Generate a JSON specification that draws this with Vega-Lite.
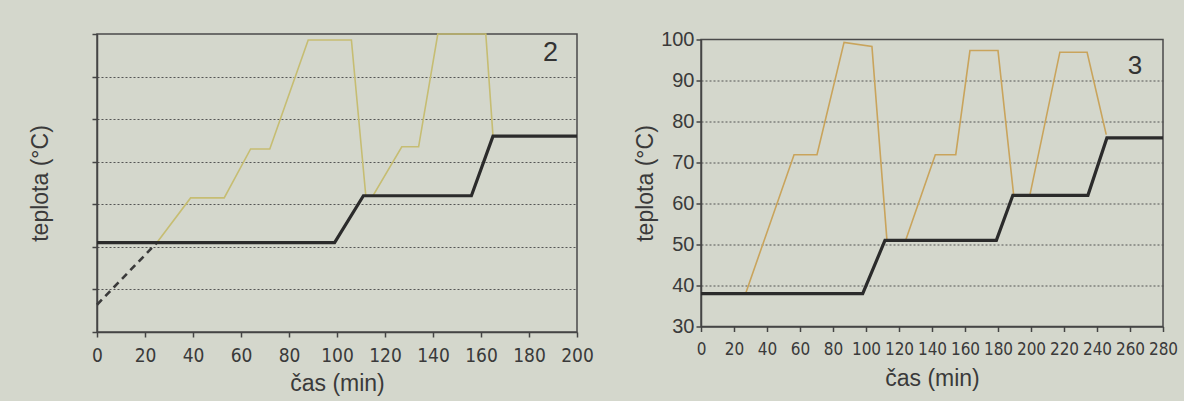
{
  "$schema": "https://vega.github.io/schema/vega-lite/v6.json",
  "background": "#d4d7cc",
  "padding": {"left": 28, "top": 28, "right": 5, "bottom": 5},
  "spacing": 124,
  "bounds": "flush",
  "center": true,
  "config": {
    "view": {"stroke": "#4a4a4a", "strokeWidth": 1.5},
    "font": "Liberation Sans",
    "axis": {
      "domainColor": "#444", "domainWidth": 1.5,
      "tickColor": "#444", "tickWidth": 1.5, "tickSize": 5,
      "labelColor": "#3a3a3a", "labelFontSize": 20, "labelPadding": 2,
      "titleColor": "#3a3a3a", "titleFontSize": 23, "titleFontWeight": "normal",
      "labelFlush": false, "labelOverlap": false,
      "gridColor": "#555", "gridDash": [2, 2], "gridWidth": 1
    }
  },
  "datasets": {
    "p2": [
      {"s": "k", "t": 0, "v": 51}, {"s": "k", "t": 99, "v": 51}, {"s": "k", "t": 111, "v": 62},
      {"s": "k", "t": 156, "v": 62}, {"s": "k", "t": 165, "v": 76}, {"s": "k", "t": 200, "v": 76},
      {"s": "d", "t": 0, "v": 36.4}, {"s": "d", "t": 25, "v": 51},
      {"s": "y", "t": 25, "v": 51}, {"s": "y", "t": 39, "v": 61.5}, {"s": "y", "t": 53, "v": 61.5},
      {"s": "y", "t": 64, "v": 73}, {"s": "y", "t": 72, "v": 73}, {"s": "y", "t": 88, "v": 98.6},
      {"s": "y", "t": 106, "v": 98.6}, {"s": "y", "t": 112, "v": 62}, {"s": "y", "t": 115, "v": 62},
      {"s": "y", "t": 127, "v": 73.5}, {"s": "y", "t": 134, "v": 73.5}, {"s": "y", "t": 142, "v": 100},
      {"s": "y", "t": 162, "v": 100}, {"s": "y", "t": 165, "v": 76}
    ],
    "p3": [
      {"s": "k", "t": 0, "v": 38}, {"s": "k", "t": 98, "v": 38}, {"s": "k", "t": 111.5, "v": 51},
      {"s": "k", "t": 179, "v": 51}, {"s": "k", "t": 189, "v": 62}, {"s": "k", "t": 234.5, "v": 62},
      {"s": "k", "t": 246, "v": 76}, {"s": "k", "t": 280, "v": 76},
      {"s": "y", "t": 27, "v": 38}, {"s": "y", "t": 56.4, "v": 71.9}, {"s": "y", "t": 70.3, "v": 71.9},
      {"s": "y", "t": 86.7, "v": 99.3}, {"s": "y", "t": 103.6, "v": 98.3}, {"s": "y", "t": 112.7, "v": 51},
      {"s": "y", "t": 124, "v": 51}, {"s": "y", "t": 142, "v": 71.9}, {"s": "y", "t": 154.4, "v": 71.9},
      {"s": "y", "t": 163, "v": 97.3}, {"s": "y", "t": 180, "v": 97.3}, {"s": "y", "t": 189.5, "v": 62},
      {"s": "y", "t": 199.3, "v": 62}, {"s": "y", "t": 217.5, "v": 96.9}, {"s": "y", "t": 234, "v": 96.9},
      {"s": "y", "t": 245.6, "v": 76.8}
    ],
    "lab2": [{"t": 189, "v": 95.6, "txt": "2"}],
    "lab3": [{"t": 263, "v": 93.6, "txt": "3"}]
  },
  "hconcat": [
    {
      "width": 480, "height": 298,
      "encoding": {
        "x": {"field": "t", "type": "quantitative", "scale": {"domain": [0, 200], "nice": false},
              "axis": {"values": [0, 20, 40, 60, 80, 100, 120, 140, 160, 180, 200], "title": "čas (min)", "grid": false,
                       "labelFont": "DejaVu Sans Condensed, Liberation Sans", "labelFontSize": 19, "labelPadding": 9, "titlePadding": 7}},
        "y": {"field": "v", "type": "quantitative", "scale": {"domain": [30, 100], "nice": false, "zero": false},
              "axis": {"values": [30, 40, 50, 60, 70, 80, 90, 100], "labels": false, "title": "teplota (°C)", "titlePadding": 39, "grid": true,
                       "gridOpacity": {"condition": {"test": "datum.value == 30 || datum.value == 100", "value": 0}, "value": 1}}}
      },
      "layer": [
        {"data": {"name": "p2"}, "transform": [{"filter": "datum.s == 'y'"}], "mark": {"type": "line", "color": "#c6bd72", "strokeWidth": 1.6}},
        {"data": {"name": "p2"}, "transform": [{"filter": "datum.s == 'd'"}], "mark": {"type": "line", "color": "#3a3a3a", "strokeWidth": 2.6, "strokeDash": [7, 5]}},
        {"data": {"name": "p2"}, "transform": [{"filter": "datum.s == 'k'"}], "mark": {"type": "line", "color": "#2b2b2b", "strokeWidth": 3.2}},
        {"data": {"name": "lab2"}, "mark": {"type": "text", "fontSize": 27, "color": "#333"}, "encoding": {"text": {"field": "txt"}}}
      ]
    },
    {
      "width": 462, "height": 287,
      "encoding": {
        "x": {"field": "t", "type": "quantitative", "scale": {"domain": [0, 280], "nice": false},
              "axis": {"values": [0, 20, 40, 60, 80, 100, 120, 140, 160, 180, 200, 220, 240, 260, 280], "title": "čas (min)", "grid": false,
                       "labelFont": "DejaVu Sans Condensed, Liberation Sans", "labelFontSize": 17, "labelPadding": 10, "titlePadding": 10}},
        "y": {"field": "v", "type": "quantitative", "scale": {"domain": [30, 100], "nice": false, "zero": false},
              "axis": {"values": [30, 40, 50, 60, 70, 80, 90, 100], "title": "teplota (°C)", "titlePadding": 3, "labelPadding": 2, "labelFontSize": 20, "grid": true,
                       "gridOpacity": {"condition": {"test": "datum.value == 30 || datum.value == 100", "value": 0}, "value": 1}}}
      },
      "layer": [
        {"data": {"name": "p3"}, "transform": [{"filter": "datum.s == 'y'"}], "mark": {"type": "line", "color": "#c9a45c", "strokeWidth": 1.6}},
        {"data": {"name": "p3"}, "transform": [{"filter": "datum.s == 'k'"}], "mark": {"type": "line", "color": "#2b2b2b", "strokeWidth": 3.2}},
        {"data": {"name": "lab3"}, "mark": {"type": "text", "fontSize": 26, "color": "#333"}, "encoding": {"text": {"field": "txt"}}}
      ]
    }
  ]
}
